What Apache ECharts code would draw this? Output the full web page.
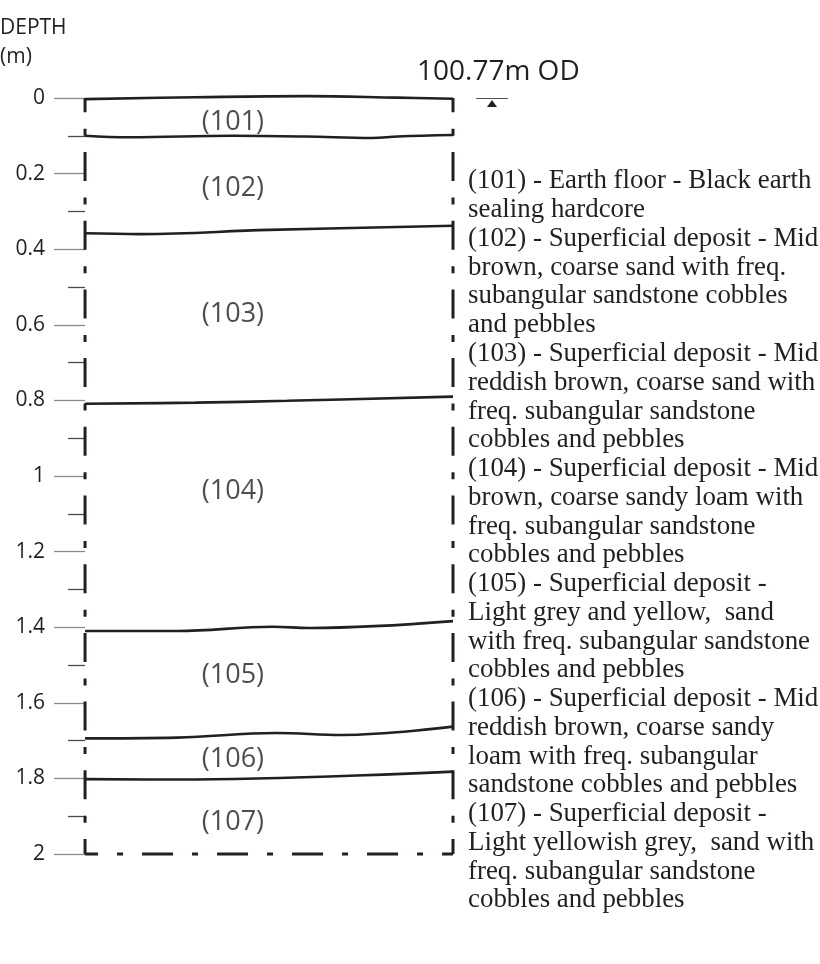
<!DOCTYPE html>
<html>
<head>
<meta charset="utf-8">
<script src="https://cdn.jsdelivr.net/npm/echarts@6/dist/echarts.min.js"></script>
<style>
html, body { margin: 0; padding: 0; background: #fff; }
#container { width: 820px; height: 964px; }
</style>
</head>
<body>
<div id="container"></div>
<script>
// depth scale (m)
var depthMin = 0;
var depthMax = 2;
var depthStep = 0.2;

// layer numbers and where their labels sit (depth, m)
var layerNames = ['(101)', '(102)', '(103)', '(104)', '(105)', '(106)', '(107)'];
var layerMid = [0.063, 0.238, 0.571, 1.04, 1.526, 1.749, 1.915];
var labelX = 0.402;

// layer boundaries, [position across section (0-1), depth m]
var line0 = [[0, 0.003], [0.3, -0.002], [0.6, -0.005], [0.85, -0.001], [1, 0.002]];
var line101 = [[0, 0.1], [0.12, 0.104], [0.4, 0.1], [0.6, 0.102], [0.78, 0.106], [0.85, 0.102], [1, 0.098]];
var line102 = [[0, 0.358], [0.15, 0.36], [0.5, 0.349], [1, 0.338]];
var line103 = [[0, 0.809], [0.3, 0.806], [0.55, 0.801], [1, 0.79]];
var line104 = [[0, 1.41], [0.25, 1.41], [0.51, 1.399], [0.61, 1.402], [1, 1.384]];
var line105 = [[0, 1.694], [0.25, 1.692], [0.52, 1.68], [0.7, 1.685], [1, 1.663]];
var line106 = [[0, 1.802], [0.25, 1.803], [1, 1.782]];
var edgeLeft = [[0, 0], [0, 2]];
var edgeRight = [[1, 0], [1, 2]];
var lineBase = [[0, 2], [1, 2]];

var odLabel = '100.77m OD';

var descLines = [
  '(101) - Earth floor - Black earth',
  'sealing hardcore',
  '(102) - Superficial deposit - Mid',
  'brown, coarse sand with freq.',
  'subangular sandstone cobbles',
  'and pebbles',
  '(103) - Superficial deposit - Mid',
  'reddish brown, coarse sand with',
  'freq. subangular sandstone',
  'cobbles and pebbles',
  '(104) - Superficial deposit - Mid',
  'brown, coarse sandy loam with',
  'freq. subangular sandstone',
  'cobbles and pebbles',
  '(105) - Superficial deposit -',
  'Light grey and yellow,  sand',
  'with freq. subangular sandstone',
  'cobbles and pebbles',
  '(106) - Superficial deposit - Mid',
  'reddish brown, coarse sandy',
  'loam with freq. subangular',
  'sandstone cobbles and pebbles',
  '(107) - Superficial deposit -',
  'Light yellowish grey,  sand with',
  'freq. subangular sandstone',
  'cobbles and pebbles'
];

var ink = '#231f20';
var sans = '"Open Sans", "Noto Sans", sans-serif';
var serif = '"Liberation Serif", "DejaVu Serif", serif';

var myChart = echarts.init(document.getElementById('container'));

function boundary(data) {
  return {
    type: 'line',
    data: data,
    smooth: 0.4,
    symbol: 'none',
    clip: false,
    silent: true,
    lineStyle: { color: ink, width: 2.6 }
  };
}

var labelData = [];
for (var i = 0; i < layerNames.length; i++) {
  labelData.push({ name: layerNames[i], value: [labelX, layerMid[i]] });
}

myChart.setOption({
  animation: false,
  title: {
    text: 'DEPTH\n(m)',
    left: 0,
    top: 14,
    padding: 0,
    textStyle: { fontFamily: sans, fontSize: 21, fontWeight: 500, color: ink, lineHeight: 29 }
  },
  grid: { left: 81, right: 367, top: 98, bottom: 110 },
  xAxis: {
    type: 'value',
    min: -0.011,
    max: 1,
    show: false
  },
  yAxis: {
    type: 'value',
    inverse: true,
    min: depthMin,
    max: depthMax,
    interval: depthStep,
    axisLine: { show: false },
    splitLine: { show: false },
    axisTick: { show: true, length: 31, lineStyle: { color: '#8a8a8a', width: 1.3 } },
    minorTick: { show: true, splitNumber: 2, length: 17, lineStyle: { color: '#4a4a4a', width: 1.3 } },
    axisLabel: {
      margin: 36,
      fontFamily: sans,
      fontSize: 21,
      fontWeight: 500,
      color: ink,
      formatter: function (v) { return String(+v.toFixed(1)); }
    }
  },
  graphic: [
    {
      type: 'text',
      left: 417,
      top: 58,
      style: { text: odLabel, fontFamily: sans, fontSize: 28, fontWeight: 500, fill: ink }
    },
    {
      type: 'line',
      shape: { x1: 476, y1: 98.5, x2: 508, y2: 98.5 },
      style: { stroke: '#555', lineWidth: 1 }
    },
    {
      type: 'polygon',
      shape: { points: [[492, 100], [487, 107], [497, 107]] },
      style: { fill: ink }
    },
    {
      type: 'text',
      left: 468,
      top: 167,
      style: {
        text: descLines.join('\n'),
        fontFamily: serif,
        fontSize: 26.9,
        lineHeight: 28.76,
        fill: ink
      }
    }
  ],
  series: [
    boundary(line0),
    boundary(line101),
    boundary(line102),
    boundary(line103),
    boundary(line104),
    boundary(line105),
    boundary(line106),
    {
      type: 'line',
      data: edgeLeft,
      symbol: 'none',
      clip: false,
      silent: true,
      lineStyle: { color: ink, width: 3, type: [29, 16.5, 7, 16.2], dashOffset: 14.7 }
    },
    {
      type: 'line',
      data: edgeRight,
      symbol: 'none',
      clip: false,
      silent: true,
      lineStyle: { color: ink, width: 3, type: [29, 16.5, 7, 16.2], dashOffset: 14.7 }
    },
    {
      type: 'line',
      data: lineBase,
      symbol: 'none',
      clip: false,
      silent: true,
      lineStyle: { color: ink, width: 3, type: [31, 19, 6, 19], dashOffset: 18 }
    },
    {
      type: 'scatter',
      data: labelData,
      symbolSize: 0,
      silent: true,
      label: {
        show: true,
        position: 'inside',
        formatter: '{b}',
        fontFamily: sans,
        fontSize: 27,
        fontWeight: 500,
        color: ink
      }
    }
  ]
});
</script>
</body>
</html>
